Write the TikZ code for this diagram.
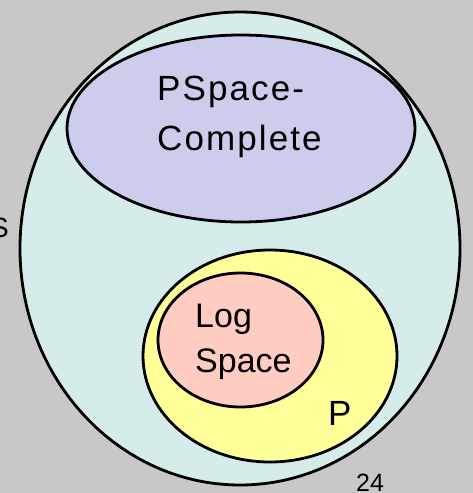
\documentclass[tikz,border=0pt]{standalone}
\usepackage{fontspec}
\setmainfont{Liberation Sans}
\newfontfamily\spacedfont[LetterSpace=6]{Liberation Sans}
\usetikzlibrary{shapes.geometric}
\definecolor{bgcol}{RGB}{200,200,200}
\definecolor{outercol}{RGB}{214,236,234}
\definecolor{purplecol}{RGB}{204,204,236}
\definecolor{yellowcol}{RGB}{255,255,153}
\definecolor{pinkcol}{RGB}{255,204,194}
\tikzset{
  setring/.style={ellipse, draw=black, line width=2.8pt, inner sep=0pt},
  lbl/.style={inner sep=0pt, anchor=base west, text=black},
}
\begin{document}
\begin{tikzpicture}[x=1pt,y=-1pt]
\fill[bgcol] (0,0) rectangle (473,493);
\useasboundingbox (0,0) rectangle (473,493);
\node[setring, fill=outercol, minimum width=440pt, minimum height=473pt] (pspace) at (240,248.5) {};
\node[setring, fill=purplecol, minimum width=348pt, minimum height=187pt] (pcomplete) at (241,128.5) {};
\node[setring, fill=yellowcol, minimum width=254pt, minimum height=212pt] (p) at (270,356) {};
\node[setring, fill=pinkcol, minimum width=165pt, minimum height=134pt] (logspace) at (240.5,340) {};
\node[lbl, font=\spacedfont\fontsize{35}{40}\selectfont] (t1) at (157,100) {PSpace-};
\node[lbl, font=\spacedfont\fontsize{35}{40}\selectfont] (t2) at (157,150) {Complete};
\node[lbl, font=\fontsize{34}{40}\selectfont] (t3) at (195,327) {Log};
\node[lbl, font=\fontsize{34}{40}\selectfont] (t4) at (195,372) {Space};
\node[lbl, font=\fontsize{35}{40}\selectfont] (t5) at (328,425) {P};
\node[inner sep=0pt, anchor=base east, font=\fontsize{28}{32}\selectfont] (t6) at (9,237) {S};
\node[lbl, font=\fontsize{25}{30}\selectfont] (t7) at (356,491) {24};
\end{tikzpicture}
\end{document}
